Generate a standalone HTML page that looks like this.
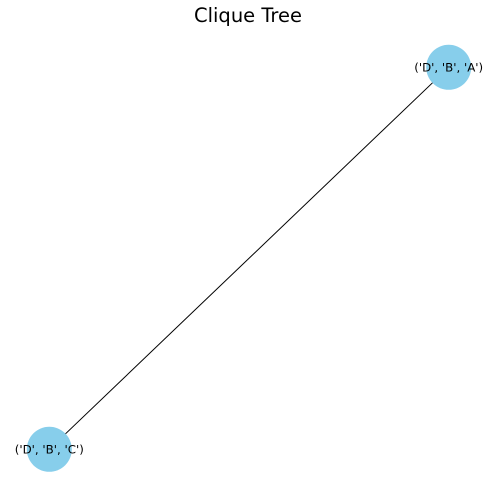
<!DOCTYPE html>
<html><head><meta charset="utf-8"><style>
body{margin:0;background:#fff;}
svg{display:block;font-family:"DejaVu Sans","Liberation Sans",sans-serif;}
</style></head><body>
<svg width="496" height="496" viewBox="0 0 496 496">
<text x="248" y="22" text-anchor="middle" font-size="19.5" fill="#000">Clique Tree</text>
<g id="edges"></g>
<g id="nodes"></g>
</svg>
<script>
const nodeLabels = ["('D', 'B', 'A')", "('D', 'B', 'C')"];
const nodeX = [1, 0];
const nodeY = [1, 0];
const edges = [[0, 1]];
function sx(v){ return 49.3 + v * (448.7 - 49.3); }
function sy(v){ return 449.3 - v * (449.3 - 67.3); }
const NS = "http://www.w3.org/2000/svg";
const eg = document.getElementById('edges'), ng = document.getElementById('nodes');
edges.forEach(function(e){
  const l = document.createElementNS(NS, 'line');
  l.setAttribute('x1', sx(nodeX[e[0]])); l.setAttribute('y1', sy(nodeY[e[0]]));
  l.setAttribute('x2', sx(nodeX[e[1]])); l.setAttribute('y2', sy(nodeY[e[1]]));
  l.setAttribute('stroke', '#000'); l.setAttribute('stroke-width', '1');
  
  
  eg.appendChild(l);
});
nodeLabels.forEach(function(lbl, i){
  const c = document.createElementNS(NS, 'circle');
  c.setAttribute('cx', sx(nodeX[i])); c.setAttribute('cy', sy(nodeY[i]));
  c.setAttribute('r', '22.5'); c.setAttribute('fill', '#87ceeb');
  
  
  ng.appendChild(c);
  const t = document.createElementNS(NS, 'text');
  t.setAttribute('x', sx(nodeX[i])); t.setAttribute('y', sy(nodeY[i]) + 4.3);
  t.setAttribute('text-anchor', 'middle'); t.setAttribute('font-size', '11.8');
  t.textContent = lbl;
  
  
  ng.appendChild(t);
});
</script>
</body></html>
